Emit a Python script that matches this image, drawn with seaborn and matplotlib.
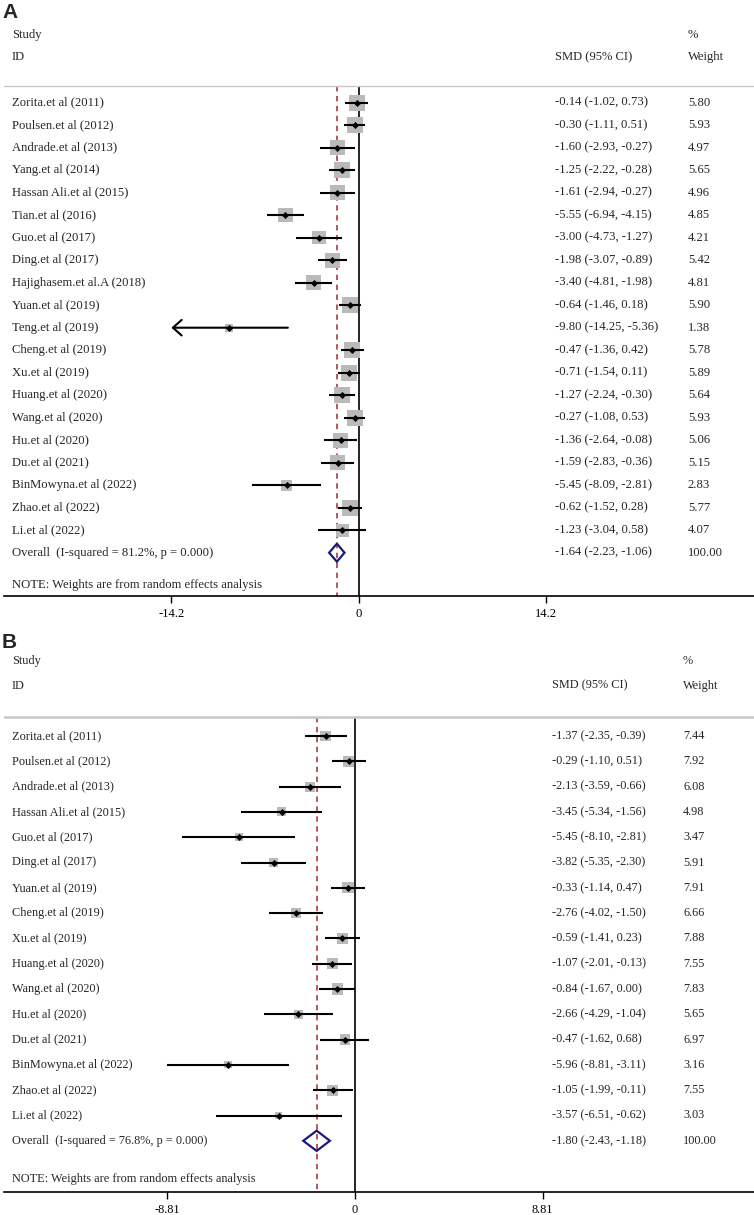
import matplotlib
matplotlib.use("Agg")
import matplotlib.pyplot as plt
import matplotlib.transforms as mtransforms
from matplotlib.patches import Polygon
import seaborn as sns
import pandas as pd

# --- dane: panel A ---
studies_a = ["Zorita.et al (2011)", "Poulsen.et al (2012)", "Andrade.et al (2013)", "Yang.et al (2014)",
             "Hassan Ali.et al (2015)", "Tian.et al (2016)", "Guo.et al (2017)", "Ding.et al (2017)",
             "Hajighasem.et al.A (2018)", "Yuan.et al (2019)", "Teng.et al (2019)", "Cheng.et al (2019)",
             "Xu.et al (2019)", "Huang.et al (2020)", "Wang.et al (2020)", "Hu.et al (2020)",
             "Du.et al (2021)", "BinMowyna.et al (2022)", "Zhao.et al (2022)", "Li.et al (2022)"]
smd_a = [-0.14, -0.30, -1.60, -1.25, -1.61, -5.55, -3.00, -1.98, -3.40, -0.64,
         -9.80, -0.47, -0.71, -1.27, -0.27, -1.36, -1.59, -5.45, -0.62, -1.23]
lo_a = [-1.02, -1.11, -2.93, -2.22, -2.94, -6.94, -4.73, -3.07, -4.81, -1.46,
        -14.25, -1.36, -1.54, -2.24, -1.08, -2.64, -2.83, -8.09, -1.52, -3.04]
hi_a = [0.73, 0.51, -0.27, -0.28, -0.27, -4.15, -1.27, -0.89, -1.98, 0.18,
        -5.36, 0.42, 0.11, -0.30, 0.53, -0.08, -0.36, -2.81, 0.28, 0.58]
weight_a = [5.80, 5.93, 4.97, 5.65, 4.96, 4.85, 4.21, 5.42, 4.81, 5.90,
            1.38, 5.78, 5.89, 5.64, 5.93, 5.06, 5.15, 2.83, 5.77, 4.07]
overall_a = [-1.64, -2.23, -1.06]
isq_a = 81.2
xtick_a = 14.2

# --- dane: panel B ---
studies_b = ["Zorita.et al (2011)", "Poulsen.et al (2012)", "Andrade.et al (2013)", "Hassan Ali.et al (2015)",
             "Guo.et al (2017)", "Ding.et al (2017)", "Yuan.et al (2019)", "Cheng.et al (2019)",
             "Xu.et al (2019)", "Huang.et al (2020)", "Wang.et al (2020)", "Hu.et al (2020)",
             "Du.et al (2021)", "BinMowyna.et al (2022)", "Zhao.et al (2022)", "Li.et al (2022)"]
smd_b = [-1.37, -0.29, -2.13, -3.45, -5.45, -3.82, -0.33, -2.76,
         -0.59, -1.07, -0.84, -2.66, -0.47, -5.96, -1.05, -3.57]
lo_b = [-2.35, -1.10, -3.59, -5.34, -8.10, -5.35, -1.14, -4.02,
        -1.41, -2.01, -1.67, -4.29, -1.62, -8.81, -1.99, -6.51]
hi_b = [-0.39, 0.51, -0.66, -1.56, -2.81, -2.30, 0.47, -1.50,
        0.23, -0.13, 0.00, -1.04, 0.68, -3.11, -0.11, -0.62]
weight_b = [7.44, 7.92, 6.08, 4.98, 3.47, 5.91, 7.91, 6.66,
            7.88, 7.55, 7.83, 5.65, 6.97, 3.16, 7.55, 3.03]
overall_b = [-1.80, -2.43, -1.18]
isq_b = 76.8
xtick_b = 8.81

W, H = 754, 1215

sns.set_theme(style="white")
plt.rcParams["font.family"] = ["Liberation Serif", "DejaVu Serif"]

fig = plt.figure(figsize=(W / 100, H / 100), dpi=100)


def fy(px):
    # piksel -> ulamek figury (os y)
    return 1 - px / H


def forest(label, studies, smd, lo, hi, weight, overall, isq, xtick, lay):
    top, bot, left = lay["top"], lay["bot"], 4
    ax = fig.add_axes([left / W, fy(bot), (W - left) / W, (bot - top) / H])
    n = len(studies)
    df = pd.DataFrame({"row": range(n), "smd": smd, "lo": lo, "hi": hi, "weight": weight})

    # kwadraty wag (pole proporcjonalne do wagi)
    wmax = df["weight"].max()
    area = 0.5184 * lay["k"] ** 2 * wmax
    sns.scatterplot(data=df, x="smd", y="row", size="weight", sizes=(0, area), size_norm=(0, wmax),
                    marker="s", color="#bababa", linewidth=0, legend=False, ax=ax, zorder=2)

    ax.set_xlim((left - lay["zero"]) / lay["unit"], (W - lay["zero"]) / lay["unit"])
    ax.set_ylim((bot - lay["row0"]) / lay["step"], (top - lay["row0"]) / lay["step"])
    ax.patch.set_alpha(0)
    for s in ["top", "left", "right"]:
        ax.spines[s].set_visible(False)
    ax.spines["bottom"].set_color("black")
    ax.spines["bottom"].set_linewidth(1.2)
    ax.set_yticks([])
    ax.set_xticks([-xtick, 0, xtick])
    ax.set_xticklabels([f"{-xtick:g}", "0", f"{xtick:g}"])
    ax.tick_params(axis="x", bottom=True, length=5, width=1, color="black",
                   labelsize=lay["fs"], pad=4, labelcolor="black")

    line_y = (lay["line"] - lay["row0"]) / lay["step"]
    y_bot = ax.get_ylim()[0]

    # linia zero i linia efektu calkowitego
    ax.vlines(0, line_y, y_bot, color="black", lw=1.2, zorder=1)
    ax.vlines(overall[0], line_y, y_bot, color="#b04a50", lw=1.3, linestyle=(0, (3, 2.5)), zorder=1)
    ax.axhline(line_y, color="#c8c8c8", lw=lay["line_w"], zorder=1)

    # przedzialy ufnosci (ze strzalka gdy wychodzi poza skale)
    for r in df.itertuples():
        if r.lo < -xtick:
            ax.annotate("", xy=(-xtick, r.row), xytext=(r.hi, r.row),
                        arrowprops=dict(arrowstyle="->,head_length=0.45,head_width=0.4", lw=1.5,
                                        color="black", shrinkA=0, shrinkB=0, mutation_scale=14),
                        zorder=3)
        else:
            ax.hlines(r.row, r.lo, r.hi, color="black", lw=1.5, zorder=3)
    sns.scatterplot(data=df, x="smd", y="row", marker="D", color="black", s=13,
                    linewidth=0, legend=False, ax=ax, zorder=4)
    ax.set_xlabel("")
    ax.set_ylabel("")

    # romb - wynik ogolny
    h = lay["dh"]
    ax.add_patch(Polygon([(overall[1], n), (overall[0], n - h), (overall[2], n), (overall[0], n + h)],
                         closed=True, fill=False, edgecolor="#1a1a7a", lw=1.6, zorder=4))

    # kolumny tekstowe
    tr = mtransforms.blended_transform_factory(fig.transFigure, ax.transData)
    fs = lay["fs"]
    for r in df.itertuples():
        ax.text(12 / W, r.row, studies[r.row], transform=tr, fontsize=fs, va="center")
        ax.text(lay["x_ci"] / W, r.row, f"{r.smd:.2f} ({r.lo:.2f}, {r.hi:.2f})",
                transform=tr, fontsize=fs, va="center")
        ax.text(lay["x_w"] / W, r.row, f"{r.weight:.2f}", transform=tr, fontsize=fs, va="center")
    ax.text(12 / W, n, f"Overall  (I-squared = {isq:.1f}%, p = 0.000)", transform=tr, fontsize=fs, va="center")
    ax.text(lay["x_ci"] / W, n, f"{overall[0]:.2f} ({overall[1]:.2f}, {overall[2]:.2f})",
            transform=tr, fontsize=fs, va="center")
    ax.text(lay["x_w"] / W, n, "100.00", transform=tr, fontsize=fs, va="center")

    # naglowki
    fig.text(12 / W, fy(lay["study"]), "Study", fontsize=fs, va="center")
    fig.text(12 / W, fy(lay["id"]), "ID", fontsize=fs, va="center")
    fig.text(lay["x_w"] / W, fy(lay["study"]), "%", fontsize=fs, va="center")
    fig.text(lay["x_ci"] / W, fy(lay["id"]), "SMD (95% CI)", fontsize=fs, va="center")
    fig.text(lay["x_w"] / W, fy(lay["id"]), "Weight", fontsize=fs, va="center")
    fig.text(12 / W, fy(lay["note"]), "NOTE: Weights are from random effects analysis", fontsize=fs, va="center")
    fig.text(2 / W, fy(lay["lab"]), label, fontsize=15, fontweight="bold",
             family=["Liberation Sans", "DejaVu Sans"], va="center")
    return ax


lay_a = dict(top=0, bot=596, zero=358.5, unit=13.18, row0=102.7, step=22.5, line=85.7, line_w=1.0,
             k=6.6, dh=0.4, fs=9.1, x_ci=555, x_w=688, study=35, id=57.3, note=585, lab=12.7)
lay_b = dict(top=620, bot=1191.7, zero=355, unit=21.3, row0=736, step=25.3, line=716.7, line_w=1.8,
             k=4.0, dh=0.4, fs=8.8, x_ci=551.5, x_w=683, study=661, id=685.7, note=1179, lab=643)

forest("A", studies_a, smd_a, lo_a, hi_a, weight_a, overall_a, isq_a, xtick_a, lay_a)
forest("B", studies_b, smd_b, lo_b, hi_b, weight_b, overall_b, isq_b, xtick_b, lay_b)

fig.savefig("out.png", dpi=100)
